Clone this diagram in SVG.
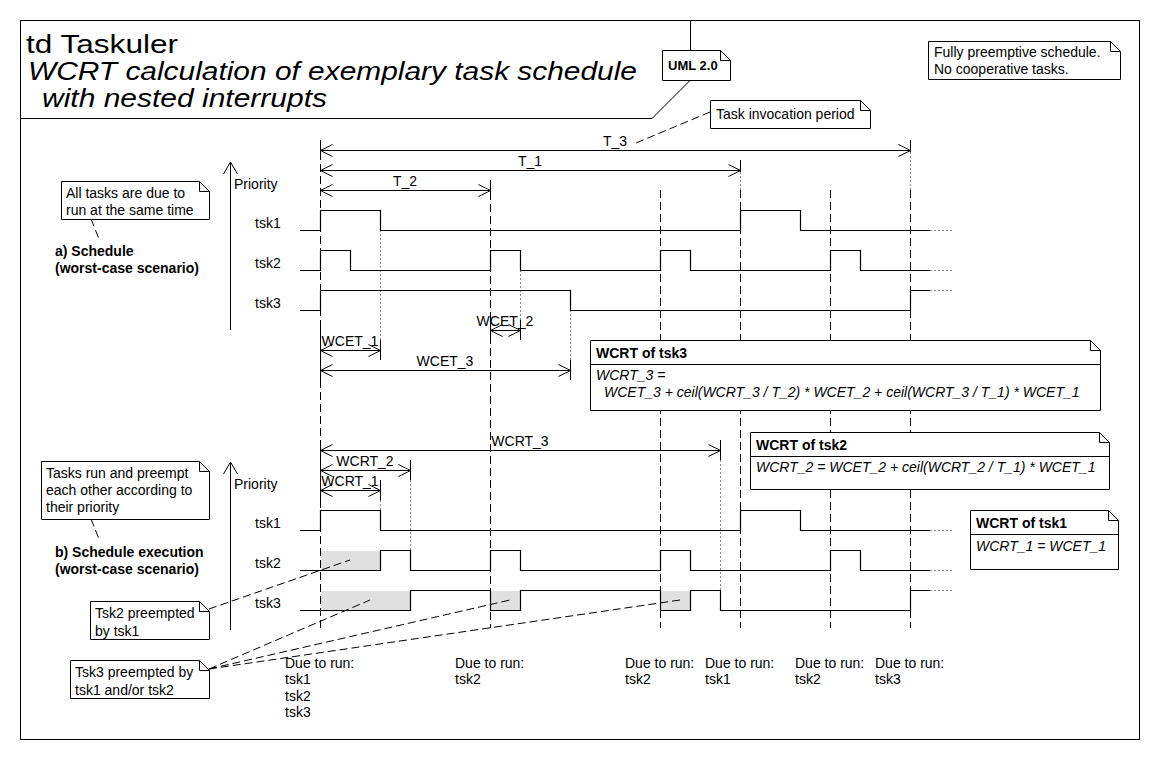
<svg xmlns="http://www.w3.org/2000/svg" width="1160" height="760" viewBox="0 0 1160 760">
<style>
text{font-family:"Liberation Sans",Arial,Helvetica,sans-serif;font-size:14px;fill:#000}
.b{font-weight:bold}
.i{font-style:italic}
.m{text-anchor:middle}
.ttl{font-size:26px}
.ln{stroke:#000;stroke-width:1.2;fill:none}
.thin{stroke:#000;stroke-width:1;fill:none}
.dash{stroke:#000;stroke-width:1;stroke-dasharray:8 4;fill:none}
.dot{stroke:#8a8a8a;stroke-width:1;stroke-dasharray:2 2;fill:none}
.note{fill:#fff;stroke:#000;stroke-width:1}
.shade{fill:#e0e0e0;stroke:none}
.dim{stroke:#000;stroke-width:1;fill:none;marker-start:url(#ah);marker-end:url(#ah)}
</style>
<defs>
<marker id="ah" viewBox="0 0 12 12" refX="12" refY="6" markerWidth="12" markerHeight="12" markerUnits="userSpaceOnUse" orient="auto-start-reverse" overflow="visible">
<path d="M0,0 L12,6 L0,12" fill="none" stroke="#000" stroke-width="1"/>
</marker>
<marker id="ahv" viewBox="0 0 12 14" refX="12" refY="7" markerWidth="12" markerHeight="14" markerUnits="userSpaceOnUse" orient="auto" overflow="visible">
<path d="M0,0 L12,7 L0,14" fill="none" stroke="#000" stroke-width="1"/>
</marker>
</defs>
<rect x="0" y="0" width="1160" height="760" fill="#fff"/>

<g id="frame">
<rect x="20.5" y="20.5" width="1119" height="719" class="thin"/>
<polyline points="20.5,118.5 652,118.5 690.5,80 690.5,20.5" class="thin"/>
<text x="26" y="53" class="ttl" textLength="152" lengthAdjust="spacingAndGlyphs">td Taskuler</text>
<text x="28" y="80" class="ttl i" textLength="609" lengthAdjust="spacingAndGlyphs">WCRT calculation of exemplary task schedule</text>
<text x="42" y="107" class="ttl i" textLength="285" lengthAdjust="spacingAndGlyphs">with nested interrupts</text>
</g>

<g id="gridlines">
<line x1="320.5" y1="140" x2="320.5" y2="628" class="dash"/>
<line x1="490.5" y1="192" x2="490.5" y2="628" class="dash"/>
<line x1="660.5" y1="190" x2="660.5" y2="628" class="dash"/>
<line x1="740.5" y1="190" x2="740.5" y2="628" class="dash"/>
<line x1="830.5" y1="190" x2="830.5" y2="628" class="dash"/>
<line x1="910.5" y1="190" x2="910.5" y2="628" class="dash"/>
<line x1="910.5" y1="152" x2="910.5" y2="190" class="dot"/>
<line x1="740.5" y1="172" x2="740.5" y2="190" class="dot"/>
<line x1="380.5" y1="230" x2="380.5" y2="340" class="dot"/>
<line x1="520.5" y1="270" x2="520.5" y2="320" class="dot"/>
<line x1="570.5" y1="310" x2="570.5" y2="360" class="dot"/>
<line x1="720.5" y1="460" x2="720.5" y2="590" class="dot"/>
<line x1="410.5" y1="480" x2="410.5" y2="550" class="dot"/>
<line x1="380.5" y1="500" x2="380.5" y2="510" class="dot"/>
</g>

<g id="schedule-a">
<line x1="230.5" y1="330" x2="230.5" y2="162" class="thin" marker-end="url(#ahv)"/>
<text x="234" y="189">Priority</text>
<text x="255" y="228">tsk1</text>
<text x="255" y="268">tsk2</text>
<text x="255" y="308">tsk3</text>
<text x="55" y="256" class="b">a) Schedule</text>
<text x="55" y="273" class="b">(worst-case scenario)</text>
<path class="ln" d="M300,230.5 H320.5 V210.5 H380.5 V230.5 H740.5 V210.5 H800.5 V230.5 H930"/>
<path class="ln" d="M300,270.5 H320.5 V250.5 H350.5 V270.5 H490.5 V250.5 H520.5 V270.5 H660.5 V250.5 H690.5 V270.5 H830.5 V250.5 H860.5 V270.5 H930"/>
<path class="ln" d="M300,310.5 H320.5 V290.5 H570.5 V310.5 H910.5 V290.5 H930"/>
<path class="dot" d="M930,230.5 H952 M930,270.5 H952 M930,290.5 H952"/>
</g>

<g id="schedule-b">
<line x1="230.5" y1="630" x2="230.5" y2="462" class="thin" marker-end="url(#ahv)"/>
<text x="234" y="489">Priority</text>
<text x="255" y="528">tsk1</text>
<text x="255" y="568">tsk2</text>
<text x="255" y="608">tsk3</text>
<text x="55" y="557" class="b">b) Schedule execution</text>
<text x="55" y="574" class="b">(worst-case scenario)</text>
<rect class="shade" x="321" y="551" width="59" height="19"/>
<rect class="shade" x="321" y="591" width="89" height="19"/>
<rect class="shade" x="491" y="591" width="29" height="19"/>
<rect class="shade" x="661" y="591" width="29" height="19"/>
<path class="ln" d="M300,530.5 H320.5 V510.5 H380.5 V530.5 H740.5 V510.5 H800.5 V530.5 H930"/>
<path class="ln" d="M300,570.5 H380.5 V550.5 H410.5 V570.5 H490.5 V550.5 H520.5 V570.5 H660.5 V550.5 H690.5 V570.5 H830.5 V550.5 H860.5 V570.5 H930"/>
<path class="ln" d="M300,610.5 H410.5 V590.5 H490.5 V610.5 H520.5 V590.5 H660.5 V610.5 H690.5 V590.5 H720.5 V610.5 H910.5 V590.5 H930"/>
<path class="dot" d="M930,530.5 H952 M930,570.5 H952 M930,590.5 H952"/>
</g>

<g id="durations">
<path class="thin" d="M320.5,140 V160 M910.5,140 V152 M740.5,160 V172 M490.5,180 V192 M490.5,320 V340 M520.5,320 V340 M320.5,320 V380 M380.5,340 V360 M570.5,360 V380 M320.5,440 V500 M720.5,440 V460 M410.5,460 V480 M380.5,480 V500"/>
<line class="dim" x1="320.5" y1="150.5" x2="910.5" y2="150.5"/>
<text class="m" x="615" y="146">T_3</text>
<line class="dim" x1="320.5" y1="170.5" x2="740.5" y2="170.5"/>
<text class="m" x="530" y="166">T_1</text>
<line class="dim" x1="320.5" y1="190.5" x2="490.5" y2="190.5"/>
<text class="m" x="405" y="186">T_2</text>
<line class="dim" x1="490.5" y1="330.5" x2="520.5" y2="330.5"/>
<text class="m" x="505" y="326">WCET_2</text>
<line class="dim" x1="320.5" y1="350.5" x2="380.5" y2="350.5"/>
<text class="m" x="350" y="346">WCET_1</text>
<line class="dim" x1="320.5" y1="370.5" x2="570.5" y2="370.5"/>
<text class="m" x="445" y="366">WCET_3</text>
<line class="dim" x1="320.5" y1="450.5" x2="720.5" y2="450.5"/>
<text class="m" x="520" y="446">WCRT_3</text>
<line class="dim" x1="320.5" y1="470.5" x2="410.5" y2="470.5"/>
<text class="m" x="365" y="466">WCRT_2</text>
<line class="dim" x1="320.5" y1="490.5" x2="380.5" y2="490.5"/>
<text class="m" x="350" y="486">WCRT_1</text>
</g>

<g id="due-labels">
<text x="285" y="668">Due to run:</text>
<text x="285" y="684">tsk1</text>
<text x="285" y="701">tsk2</text>
<text x="285" y="717">tsk3</text>
<text x="455" y="668">Due to run:</text>
<text x="455" y="684">tsk2</text>
<text x="625" y="668">Due to run:</text>
<text x="625" y="684">tsk2</text>
<text x="705" y="668">Due to run:</text>
<text x="705" y="684">tsk1</text>
<text x="795" y="668">Due to run:</text>
<text x="795" y="684">tsk2</text>
<text x="875" y="668">Due to run:</text>
<text x="875" y="684">tsk3</text>
</g>

<g id="connectors">
<line class="dash" x1="710" y1="112" x2="636" y2="143"/>
<line class="dash" x1="91" y1="219" x2="99" y2="239"/>
<line class="dash" x1="91" y1="519" x2="99" y2="539"/>
<line class="dash" x1="209" y1="609" x2="350" y2="560"/>
<line class="dash" x1="209" y1="669" x2="370" y2="600"/>
<line class="dash" x1="209" y1="669" x2="510" y2="600"/>
<line class="dash" x1="209" y1="669" x2="680" y2="600"/>
</g>

<g id="note-uml">
<path class="note" d="M662.5,50.5 H720.5 L730.5,60.5 V80.5 H662.5 Z M720.5,50.5 V60.5 H730.5"/>
<text x="668" y="70" class="b" style="font-size:13px">UML 2.0</text>
</g>
<g id="note-fully">
<path class="note" d="M928.5,41.5 H1110.5 L1120.5,51.5 V79.5 H928.5 Z M1110.5,41.5 V51.5 H1120.5"/>
<text x="934" y="57">Fully preemptive schedule.</text>
<text x="934" y="74">No cooperative tasks.</text>
</g>
<g id="note-period">
<path class="note" d="M710.5,100.5 H860.5 L870.5,110.5 V128.5 H710.5 Z M860.5,100.5 V110.5 H870.5"/>
<text x="716" y="119">Task invocation period</text>
</g>
<g id="note-alltasks">
<path class="note" d="M61.5,181.5 H199.5 L209.5,191.5 V219.5 H61.5 Z M199.5,181.5 V191.5 H209.5"/>
<text x="66" y="198">All tasks are due to</text>
<text x="66" y="215">run at the same time</text>
</g>
<g id="note-tasksrun">
<path class="note" d="M41.5,461.5 H199.5 L209.5,471.5 V519.5 H41.5 Z M199.5,461.5 V471.5 H209.5"/>
<text x="46" y="478">Tasks run and preempt</text>
<text x="46" y="495">each other according to</text>
<text x="46" y="512">their priority</text>
</g>
<g id="note-tsk2pre">
<path class="note" d="M90.5,601.5 H199.5 L209.5,611.5 V639.5 H90.5 Z M199.5,601.5 V611.5 H209.5"/>
<text x="95" y="618">Tsk2 preempted</text>
<text x="95" y="636">by tsk1</text>
</g>
<g id="note-tsk3pre">
<path class="note" d="M70.5,660.5 H199.5 L209.5,670.5 V698.5 H70.5 Z M199.5,660.5 V670.5 H209.5"/>
<text x="75" y="677">Tsk3 preempted by</text>
<text x="75" y="695">tsk1 and/or tsk2</text>
</g>
<g id="note-wcrt3">
<path class="note" d="M590.5,340.5 H1090.5 L1100.5,350.5 V410.5 H590.5 Z M1090.5,340.5 V350.5 H1100.5"/>
<line class="thin" x1="590.5" y1="364.5" x2="1100.5" y2="364.5"/>
<text x="596" y="358" class="b">WCRT of tsk3</text>
<text x="596" y="380" class="i">WCRT_3 =</text>
<text x="604" y="397" class="i">WCET_3 + ceil(WCRT_3 / T_2) * WCET_2 + ceil(WCRT_3 / T_1) * WCET_1</text>
</g>
<g id="note-wcrt2">
<path class="note" d="M750.5,432.5 H1099.5 L1109.5,442.5 V489.5 H750.5 Z M1099.5,432.5 V442.5 H1109.5"/>
<line class="thin" x1="750.5" y1="456.5" x2="1109.5" y2="456.5"/>
<text x="756" y="450" class="b">WCRT of tsk2</text>
<text x="756" y="472" class="i">WCRT_2 = WCET_2 + ceil(WCRT_2 / T_1) * WCET_1</text>
</g>
<g id="note-wcrt1">
<path class="note" d="M970.5,510.5 H1108.5 L1118.5,520.5 V569.5 H970.5 Z M1108.5,510.5 V520.5 H1118.5"/>
<line class="thin" x1="970.5" y1="534.5" x2="1118.5" y2="534.5"/>
<text x="976" y="528" class="b">WCRT of tsk1</text>
<text x="976" y="551" class="i">WCRT_1 = WCET_1</text>
</g>
</svg>
